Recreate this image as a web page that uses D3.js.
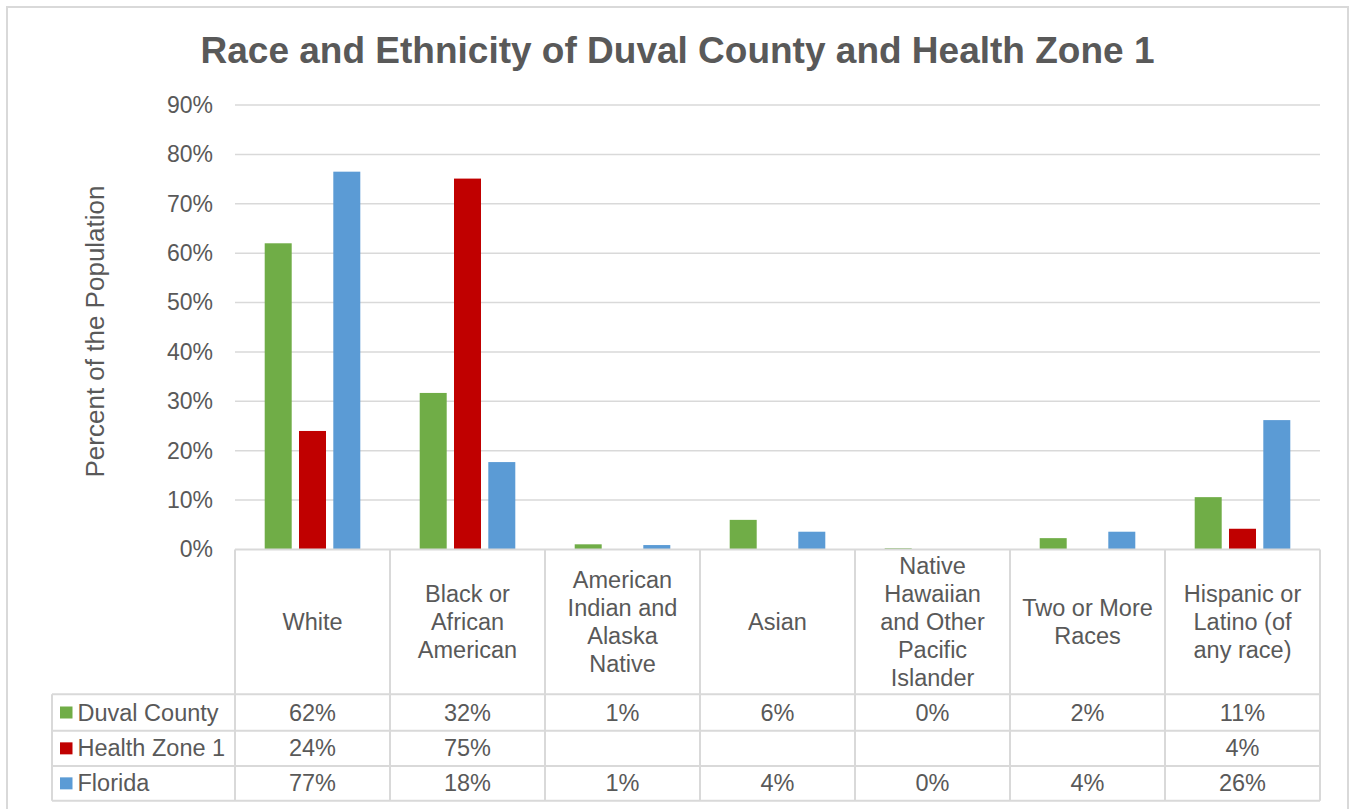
<!DOCTYPE html>
<html>
<head>
<meta charset="utf-8">
<script src="https://cdn.jsdelivr.net/npm/d3@7"></script>
<style>
  body { margin: 0; background: #fff; }
  text { font-family: "Liberation Sans", Arial, sans-serif; fill: #595959; }
  .grid line { stroke: #d9d9d9; stroke-width: 1.5; }
  .tbl line { stroke: #d9d9d9; stroke-width: 2; }
</style>
</head>
<body>
<svg id="svgchart"></svg>
<script>
'use strict'

// data
const categories = ["White", "Black or African American", "American Indian and Alaska Native", "Asian",
  "Native Hawaiian and Other Pacific Islander", "Two or More Races", "Hispanic or Latino (of any race)"]
const categoryLines = [["White"], ["Black or", "African", "American"], ["American", "Indian and", "Alaska", "Native"],
  ["Asian"], ["Native", "Hawaiian", "and Other", "Pacific", "Islander"], ["Two or More", "Races"],
  ["Hispanic or", "Latino (of", "any race)"]]
const seriesNames = ["Duval County", "Health Zone 1", "Florida"]
const seriesColors = ["#70ad47", "#c00000", "#5b9bd5"]
const duvalValues = [62.0, 31.7, 1.05, 6.0, 0.25, 2.3, 10.6]
const healthZoneValues = [24.0, 75.1, null, null, null, null, 4.2]
const floridaValues = [76.5, 17.7, 0.9, 3.6, 0.1, 3.6, 26.2]
const yTicks = [0, 10, 20, 30, 40, 50, 60, 70, 80, 90]

const seriesValues = [duvalValues, healthZoneValues, floridaValues]

const width = 1351
const height = 809
const plot = {left: 235, right: 1320, top: 105, bottom: 549.5}
const rowH = [144.8, 36.4, 35.3, 34.7] // header row + one row per series
const legendLeft = 52

const svg = d3.select('#svgchart')
  .attr("width", width)
  .attr("height", height)

// chart border
svg.append("rect")
  .attr("x", 7).attr("y", 7)
  .attr("width", 1341).attr("height", 812)
  .attr("fill", "none")
  .attr("stroke", "#d9d9d9")
  .attr("stroke-width", 2)

// x scale (categories) and inner scale (series)
const x0 = d3.scaleBand().domain(categories).range([plot.left, plot.right])
const x1 = d3.scaleBand().domain(seriesNames).range([0, x0.bandwidth()])
  .paddingInner(0.213).paddingOuter(0.866)
const y = d3.scaleLinear().domain([0, 90]).range([plot.bottom, plot.top])

// title
svg.append("text")
  .attr("x", 677.5).attr("y", 63)
  .attr("text-anchor", "middle")
  .style("font-size", "37px")
  .style("font-weight", "bold")
  .text("Race and Ethnicity of Duval County and Health Zone 1")

// gridlines
svg.append("g").attr("class", "grid")
  .selectAll("line")
  .data(yTicks.slice(1))
  .enter().append("line")
  .attr("x1", plot.left).attr("x2", plot.right)
  .attr("y1", d => y(d)).attr("y2", d => y(d))

// y axis tick labels
const yAxis = svg.append("g")
  .attr("transform", "translate(213,0)")
  .call(d3.axisLeft(y).tickValues(yTicks).tickFormat(d => d + "%").tickSize(0).tickPadding(0))
yAxis.select(".domain").remove()
yAxis.selectAll("text")
  .style("font-size", "23px")
  .style("font-family", '"Liberation Sans", Arial, sans-serif')
  .attr("fill", "#595959")

// y axis label
svg.append("text")
  .attr("transform", "translate(95,331.5) rotate(-90)")
  .attr("text-anchor", "middle")
  .attr("dominant-baseline", "central")
  .style("font-size", "26px")
  .text("Percent of the Population")

// bars
seriesNames.forEach((name, s) => {
  svg.append("g")
    .selectAll("rect")
    .data(categories.map((c, i) => ({cat: c, value: seriesValues[s][i]})).filter(d => d.value != null))
    .enter().append("rect")
    .attr("x", d => x0(d.cat) + x1(name))
    .attr("y", d => y(d.value))
    .attr("width", x1.bandwidth())
    .attr("height", d => y(0) - y(d.value))
    .attr("fill", seriesColors[s])
})

// data table
const tbl = svg.append("g").attr("class", "tbl")
const rowY = [plot.bottom]
rowH.forEach(h => rowY.push(rowY[rowY.length - 1] + h))

// horizontal lines
tbl.append("line")
  .attr("x1", plot.left).attr("x2", plot.right)
  .attr("y1", rowY[0]).attr("y2", rowY[0])
rowY.slice(1).forEach(yy => {
  tbl.append("line")
    .attr("x1", legendLeft).attr("x2", plot.right)
    .attr("y1", yy).attr("y2", yy)
})
// vertical lines
const colX = categories.map(c => x0(c)).concat([plot.right])
colX.forEach(xx => {
  tbl.append("line")
    .attr("x1", xx).attr("x2", xx)
    .attr("y1", rowY[0]).attr("y2", rowY[4])
})
tbl.append("line")
  .attr("x1", legendLeft).attr("x2", legendLeft)
  .attr("y1", rowY[1]).attr("y2", rowY[4])

// category labels in the header row
const lineH = 27.8
categories.forEach((c, i) => {
  const lines = categoryLines[i]
  const cy = (rowY[0] + rowY[1]) / 2
  const t = svg.append("text")
    .attr("text-anchor", "middle")
    .style("font-size", "23.5px")
  lines.forEach((ln, k) => {
    t.append("tspan")
      .attr("x", x0(c) + x0.bandwidth() / 2)
      .attr("y", cy + (k - (lines.length - 1) / 2) * lineH)
      .attr("dominant-baseline", "central")
      .text(ln)
  })
})

// legend keys + values rows
seriesNames.forEach((name, s) => {
  const cy = (rowY[s + 1] + rowY[s + 2]) / 2
  svg.append("rect")
    .attr("x", 60).attr("y", cy - 6)
    .attr("width", 12.5).attr("height", 12)
    .attr("fill", seriesColors[s])
  svg.append("text")
    .attr("x", 77.5).attr("y", cy)
    .attr("dominant-baseline", "central")
    .style("font-size", "23.5px")
    .text(name)
  categories.forEach((c, i) => {
    const v = seriesValues[s][i]
    if (v == null) return
    svg.append("text")
      .attr("x", x0(c) + x0.bandwidth() / 2).attr("y", cy)
      .attr("text-anchor", "middle")
      .attr("dominant-baseline", "central")
      .style("font-size", "23.5px")
      .text(Math.round(v) + "%")
  })
})
</script>
</body>
</html>
